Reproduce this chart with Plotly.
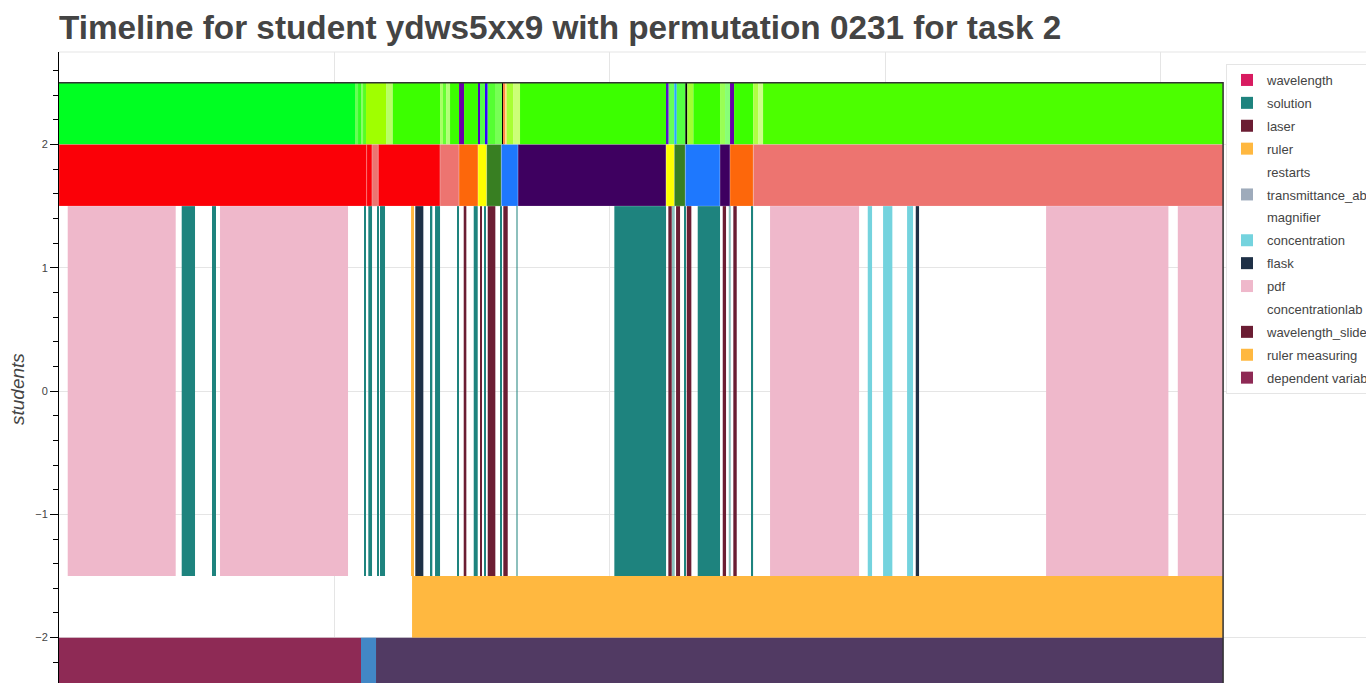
import plotly.graph_objects as go

TITLE = "Timeline for student ydws5xx9 with permutation 0231 for task 2"
Y_LABEL = "students"

# time axis in seconds since the start of the session
SESSION_END = 2536.6
X_MAX = 2848.0
Y_MIN, Y_MAX = -2.368, 2.75
GRID_STEP = 600

# ---- row A: wavelength colour (value-coloured segments) ----
wave_edges = [0, 645.0, 651.6, 658.1, 662.5, 669.0, 712.6, 727.2, 830.3, 836.8, 843.4,
              852.1, 871.7, 882.6, 913.1, 917.4, 929.9, 934.2, 950.1, 965.4, 968.2,
              971.9, 975.6, 989.4, 1004.6, 1324.3, 1328.6, 1340.8, 1346.1, 1364.8, 1369.2,
              1382.3, 1440.4, 1451.3, 1462.2, 1471.0, 1513.0, 1523.3, 1534.2, 2536.6]
wave_colors = ["#00ff22", "#66ff55", "#33ff22", "#88ff66", "#55ff22", "#a0ff00", "#b8ff66",
               "#3cff00", "#a8ff66", "#66ff33", "#b0ff77", "#3cff00", "#6a00a8", "#3cff00",
               "#5500c8", "#55ff44", "#3300ff", "#55ff33", "#77ff55", "#000000", "#ff8844",
               "#ffe088", "#a8ff33", "#ccff77", "#3cff00", "#5511cc", "#66ff55", "#22aaff",
               "#55ff44", "#000000", "#a0ff33", "#3cff00", "#99ff55", "#88ff77", "#6600aa",
               "#3cff00", "#b0ff44", "#ccff88", "#4cff00"]

# ---- row B: solution colour ----
RED, SALMON, ORANGE, YELLOW = "#fb0007", "#ed7470", "#fd670b", "#ffff00"
DKGREEN, BLUE, PURPLE = "#387f22", "#1e78fe", "#3e0060"
sol_edges = [0, 670.5, 682.1, 695.8, 830.3, 871.7, 913.1, 932.0, 963.9, 1000.3,
             1322.8, 1340.8, 1364.8, 1440.4, 1462.2, 1513.0, 2536.6]
sol_colors = [RED, RED, SALMON, RED, SALMON, ORANGE, YELLOW, DKGREEN, BLUE, PURPLE,
              YELLOW, DKGREEN, BLUE, PURPLE, ORANGE, SALMON]

# ---- row C: activity spans ----
pdf_spans = [(19.0, 254.3), (350.9, 629.8), (1549.4, 1743.4), (2150.9, 2417.4), (2437.9, 2536.6)]
solution_spans = [(267.4, 296.4), (333.4, 342.1), (665.3, 668.4), (674.0, 682.1), (693.6, 695.8),
                  (699.5, 710.4), (810.0, 813.5), (819.4, 830.3), (867.3, 871.0), (903.7, 912.4),
                  (926.2, 929.9), (961.0, 963.9), (1210.1, 1322.8), (1362.0, 1364.8),
                  (1391.8, 1440.4), (1509.5, 1512.4)]
solution_faint_spans = [(995.9, 999.6), (1337.4, 1341.7), (1459.4, 1463.8)]
slider_spans = [(881.9, 887.6), (918.1, 921.1), (934.2, 950.8), (968.2, 977.8), (1327.8, 1335.2),
                (1344.6, 1353.3), (1367.9, 1377.9), (1446.3, 1453.5), (1469.4, 1476.8)]
ruler_spans = [(767.1, 773.6)]
flask_spans = [(776.4, 793.9), (1866.9, 1874.1)]
concentration_spans = [(1762.3, 1771.7), (1795.7, 1815.9), (1848.0, 1861.0)]

# ---- row D: ruler measuring ----
ruler_measuring_spans = [(769.3, 2536.6)]

# ---- row E: dependent variable ----
dep_edges = [0, 658.1, 690.8, 2536.6]
dep_colors = ["#8e2a55", "#4287c6", "#513a63"]

# legend
legend_names = ["wavelength", "solution", "laser", "ruler", "restarts", "transmittance_absorbance",
                "magnifier", "concentration", "flask", "pdf", "concentrationlab",
                "wavelength_slider", "ruler measuring", "dependent variable"]
legend_colors = ["#d81b60", "#1e837e", "#6b1d33", "#ffb840", None, "#9eabbb", None,
                 "#74d3de", "#1e3046", "#efb8cb", None, "#6b1d33", "#ffb840", "#8e2a55"]

# row geometry (centre, height) in y units
ROW_A = (2.25, 0.5)
ROW_B = (1.75, 0.5)
ROW_C = (0.0, 3.0)
ROW_D = (-1.75, 0.5)
ROW_E = (-2.25, 0.5)

span_data = {
    "solution": (solution_spans, ROW_C),
    "ruler": (ruler_spans, ROW_C),
    "concentration": (concentration_spans, ROW_C),
    "flask": (flask_spans, ROW_C),
    "pdf": (pdf_spans, ROW_C),
    "wavelength_slider": (slider_spans, ROW_C),
    "ruler measuring": (ruler_measuring_spans, ROW_D),
}

FONT = "Liberation Sans, Arial, Helvetica, sans-serif"
fig = go.Figure()


def hbar(starts, ends, row, color, name, showlegend, opacity=1.0, line=None, group=None):
    return go.Bar(
        orientation="h",
        base=list(starts),
        x=[e - s for s, e in zip(starts, ends)],
        y=[row[0]] * len(starts),
        width=[row[1]] * len(starts),
        marker=dict(color=color, line=line or dict(width=0)),
        name=name, showlegend=showlegend, opacity=opacity,
        legendgroup=group,
        hoverinfo="skip",
    )


for i, (name, col) in enumerate(zip(legend_names, legend_colors)):
    c = col if col else "rgba(0,0,0,0)"
    g = "g%d" % i
    if name in span_data:
        spans, row = span_data[name]
        fig.add_trace(hbar([s for s, _ in spans], [e for _, e in spans], row, c, name, True, group=g))
    elif name == "dependent variable":
        fig.add_trace(hbar(dep_edges[:-1], dep_edges[1:], ROW_E, dep_colors, name, True, group=g))
    else:
        fig.add_trace(hbar([0], [0], ROW_A, c, name, True, group=g))

# value-coloured rows
fig.add_trace(hbar(wave_edges[:-1], wave_edges[1:], ROW_A, wave_colors, "wavelength value", False))
fig.add_trace(hbar(sol_edges[:-1], sol_edges[1:], ROW_B, sol_colors, "solution colour", False,
                   line=dict(width=0.6, color="rgba(255,255,255,0.35)")))
fig.add_trace(hbar([s for s, _ in solution_faint_spans], [e for _, e in solution_faint_spans],
                   ROW_C, "#1e837e", "solution", False, opacity=0.5))

# session frame lines (top of wavelength row, end of session)
fig.add_trace(go.Scatter(x=[0, SESSION_END, SESSION_END], y=[2.5, 2.5, Y_MIN],
                         mode="lines", line=dict(color="#333333", width=1.5),
                         showlegend=False, hoverinfo="skip"))

fig.update_layout(
    width=1366, height=683,
    margin=dict(l=59, r=0, t=52, b=0, autoexpand=False),
    paper_bgcolor="white", plot_bgcolor="white",
    barmode="overlay", bargap=0.2,
    font=dict(family=FONT, color="#444444"),
    title=dict(text="<b>" + TITLE + "</b>", font=dict(size=33.3, color="#444444", family=FONT),
               x=59 / 1366, xanchor="left", xref="container",
               y=1 - 27.8 / 683, yanchor="middle", yref="container", pad=dict(l=0, r=0, t=0, b=0)),
    showlegend=True,
    legend=dict(x=(1226 - 59) / 1307, xanchor="left", y=(683 - 64) / 631, yanchor="top",
                bgcolor="white", bordercolor="#e5e5e5", borderwidth=1,
                font=dict(size=13, color="#444444", family=FONT),
                traceorder="grouped", tracegroupgap=3),
    xaxis=dict(range=[0, X_MAX], showticklabels=False, ticks="", showgrid=True,
               gridcolor="#e5e5e5", gridwidth=1, tick0=0, dtick=GRID_STEP,
               zeroline=False, showline=False),
    yaxis=dict(range=[Y_MIN, Y_MAX], tick0=0, dtick=1, ticks="outside", ticklen=8,
               tickcolor="black", tickwidth=1, showline=True, linecolor="black", linewidth=1,
               showgrid=True, gridcolor="#e5e5e5", gridwidth=1, zeroline=False,
               tickfont=dict(size=11, color="#444444", family=FONT),
               minor=dict(dtick=0.2, tick0=0, ticks="outside", ticklen=5, tickcolor="black",
                          showgrid=False)),
    shapes=[dict(type="line", xref="paper", yref="paper", x0=0, x1=1, y0=1, y1=1,
                 line=dict(color="#e5e5e5", width=1), layer="below")],
    annotations=[dict(text="<i>" + Y_LABEL + "</i>", textangle=-90, showarrow=False,
                      xref="paper", yref="paper", x=(18 - 59) / 1307, y=(683 - 389) / 631,
                      xanchor="center", yanchor="middle",
                      font=dict(size=19, color="#444444", family=FONT))],
)

fig.write_html("out.html", config={"displayModeBar": False})
